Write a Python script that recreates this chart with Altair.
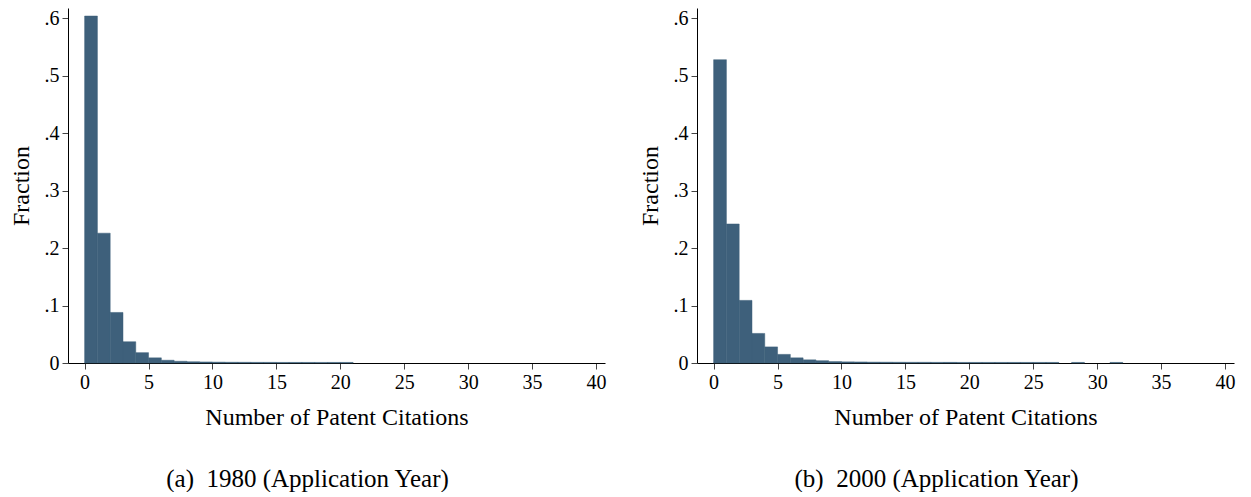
import altair as alt
import pandas as pd

# ---- data ----
bins_1980 = [0, 1, 2, 3, 4, 5, 6, 7, 8, 9, 10, 11, 12, 13, 14, 15, 16, 17, 18, 19, 20]
frac_1980 = [0.604, 0.226, 0.088, 0.037, 0.018, 0.009, 0.0048, 0.0030, 0.0022, 0.0018,
             0.0015, 0.0013, 0.0012, 0.0011, 0.0011, 0.0010, 0.0010, 0.0010, 0.0010, 0.0010, 0.0010]

bins_2000 = [0, 1, 2, 3, 4, 5, 6, 7, 8, 9, 10, 11, 12, 13, 14, 15, 16, 17, 18, 19, 20,
             21, 22, 23, 24, 25, 26, 28, 31]
frac_2000 = [0.528, 0.242, 0.109, 0.0515, 0.028, 0.015, 0.009, 0.0055, 0.004, 0.0025,
             0.002, 0.0018, 0.0015, 0.0014, 0.0013, 0.0012, 0.0012, 0.0011, 0.0011, 0.0010,
             0.0010, 0.0010, 0.0010, 0.0010, 0.0010, 0.0010, 0.0010, 0.0010, 0.0010]

x_ticks = [0, 5, 10, 15, 20, 25, 30, 35, 40]
y_ticks = [0, 0.1, 0.2, 0.3, 0.4, 0.5, 0.6]

caption_a = "(a)\u00a0 1980 (Application Year)"
caption_b = "(b)\u00a0 2000 (Application Year)"

BAR = "#3e607b"
FONT = "Liberation Serif"


def panel(bins, fracs, caption):
    df = pd.DataFrame({"start": bins, "end": [b + 1 for b in bins], "fraction": fracs})
    return (
        alt.Chart(
            df,
            title=alt.TitleParams(
                caption, orient="bottom", anchor="middle", frame="bounds", font=FONT,
                fontSize=25, fontWeight="normal", color="black", offset=38,
            ),
        )
        .mark_bar(color=BAR, stroke=BAR, strokeWidth=0.5)
        .encode(
            x=alt.X(
                "start:Q",
                scale=alt.Scale(domain=[-1.3, 40.7], nice=False, zero=False),
                axis=alt.Axis(values=x_ticks, title="Number of Patent Citations", format="d"),
            ),
            x2="end:Q",
            y=alt.Y(
                "fraction:Q",
                scale=alt.Scale(domain=[0, 0.618], nice=False),
                axis=alt.Axis(
                    values=y_ticks, title="Fraction",
                    labelExpr="datum.value == 0 ? '0' : replace(format(datum.value, '.1f'), '0.', '.')",
                ),
            ),
            y2=alt.datum(0),
        )
        .properties(width=537, height=355)
    )


chart = (
    alt.hconcat(panel(bins_1980, frac_1980, caption_a), panel(bins_2000, frac_2000, caption_b), spacing=31)
    .properties(padding={"left": 1, "top": 0, "right": 5, "bottom": 0})
    .configure_view(stroke=None)
    .configure_axis(
        grid=False,
        domainColor="black",
        domainWidth=1,
        tickColor="#444444",
        tickSize=6,
        labelFont=FONT,
        labelFontSize=20,
        labelColor="black",
        labelPadding=3,
        titleFont=FONT,
        titleFontSize=24,
        titleFontWeight="normal",
        titleColor="black",
    )
    .configure_axisY(titlePadding=11)
    .configure_axisX(titlePadding=13)
)

chart.save("out.html", embed_options={"renderer": "svg", "actions": False})
